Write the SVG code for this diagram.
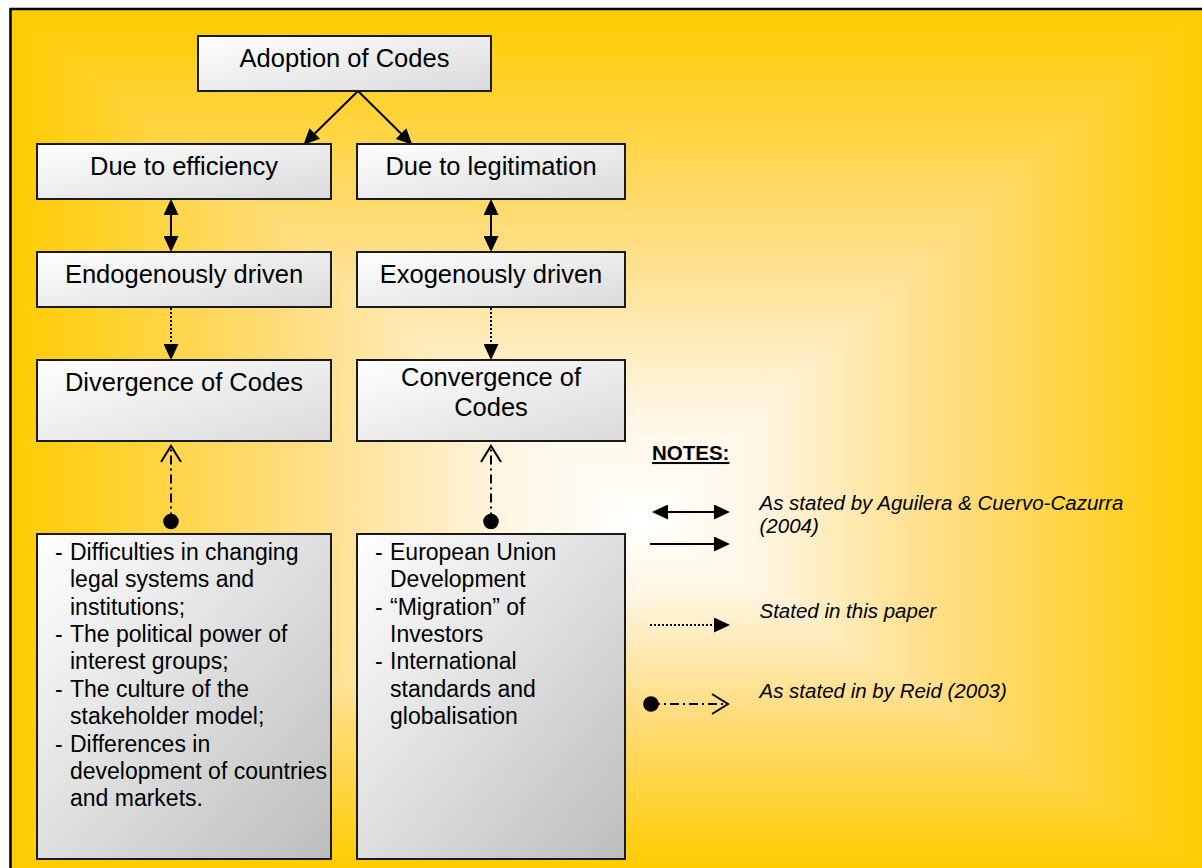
<svg xmlns="http://www.w3.org/2000/svg" width="1202" height="868" viewBox="0 0 1202 868">
<style>
.box{stroke:#1a1a1a;stroke-width:2}
.t{font-family:"Liberation Sans",Arial,sans-serif;font-size:25.5px;fill:#000;text-anchor:middle}
.b{font-family:"Liberation Sans",Arial,sans-serif;font-size:23px;fill:#000}
.n{font-family:"Liberation Sans",Arial,sans-serif;font-size:20.5px;fill:#000;font-style:italic}
.solid{stroke:#000;stroke-width:2;fill:none}
.dot{stroke:#000;stroke-width:2;fill:none;stroke-dasharray:2 2}
.dd{stroke:#000;stroke-width:2;fill:none;stroke-dasharray:9 4 2 4}
</style>
<defs>
<linearGradient id="gL" gradientUnits="userSpaceOnUse" x1="10" y1="0" x2="640" y2="0">
<stop offset="0" stop-color="#FFCC00"/><stop offset="0.45" stop-color="#FFDD80"/><stop offset="0.8" stop-color="#FFF6E6"/><stop offset="1" stop-color="#FFFFFF"/></linearGradient>
<linearGradient id="gR" gradientUnits="userSpaceOnUse" x1="1202" y1="0" x2="640" y2="0">
<stop offset="0" stop-color="#FFCC00"/><stop offset="0.45" stop-color="#FFDD80"/><stop offset="0.8" stop-color="#FFF6E6"/><stop offset="1" stop-color="#FFFFFF"/></linearGradient>
<linearGradient id="gT" gradientUnits="userSpaceOnUse" x1="0" y1="10" x2="0" y2="520">
<stop offset="0" stop-color="#FFCC00"/><stop offset="0.45" stop-color="#FFDD80"/><stop offset="0.8" stop-color="#FFF6E6"/><stop offset="1" stop-color="#FFFFFF"/></linearGradient>
<linearGradient id="gB" gradientUnits="userSpaceOnUse" x1="0" y1="868" x2="0" y2="520">
<stop offset="0" stop-color="#FFCC00"/><stop offset="0.45" stop-color="#FFDD80"/><stop offset="0.8" stop-color="#FFF6E6"/><stop offset="1" stop-color="#FFFFFF"/></linearGradient>
<linearGradient id="boxG" x1="0" y1="0" x2="1" y2="1">
<stop offset="0" stop-color="#FFFFFF"/><stop offset="1" stop-color="#DADADA"/></linearGradient>
<linearGradient id="boxG2" x1="0" y1="0" x2="1" y2="1">
<stop offset="0" stop-color="#FFFFFF"/><stop offset="1" stop-color="#BDBDBD"/></linearGradient>
<marker id="head" markerUnits="userSpaceOnUse" markerWidth="16" markerHeight="15" refX="0" refY="7.5" orient="auto-start-reverse" viewBox="0 0 16 15">
<path d="M0,0 L16,7.5 L0,15 z" fill="#000"/></marker>
<marker id="chev" markerUnits="userSpaceOnUse" markerWidth="20" markerHeight="24" refX="17" refY="12" orient="auto" viewBox="0 0 20 24">
<path d="M1,2 L17,12 L1,22" fill="none" stroke="#000" stroke-width="2"/></marker>
<marker id="ball" markerUnits="userSpaceOnUse" markerWidth="18" markerHeight="18" refX="9" refY="9" orient="auto" viewBox="0 0 18 18">
<circle cx="9" cy="9" r="7.8" fill="#000"/></marker>
</defs>

<g id="background">
<rect x="0" y="0" width="1202" height="868" fill="#FFFFFF"/>
<rect x="10" y="10" width="1192" height="858" fill="#FFE4A0"/>
<polygon points="10,10 640,520 10,868" fill="url(#gL)" stroke="url(#gL)" stroke-width="1"/>
<polygon points="1202,10 1202,868 640,520" fill="url(#gR)" stroke="url(#gR)" stroke-width="1"/>
<polygon points="10,10 1202,10 640,520" fill="url(#gT)" stroke="url(#gT)" stroke-width="1"/>
<polygon points="10,868 1202,868 640,520" fill="url(#gB)" stroke="url(#gB)" stroke-width="1"/>
<path d="M10.5,880 L10.5,9 L1210,9" fill="none" stroke="#000" stroke-width="2.5"/>
</g>

<g id="connectors">
<line class="solid" x1="358" y1="91" x2="314.8" y2="133.5" marker-end="url(#head)"/>
<line class="solid" x1="358" y1="91" x2="401" y2="133.5" marker-end="url(#head)"/>
<line class="solid" x1="171" y1="215" x2="171" y2="236" marker-start="url(#head)" marker-end="url(#head)"/>
<line class="solid" x1="491" y1="215" x2="491" y2="236" marker-start="url(#head)" marker-end="url(#head)"/>
<line class="dot" x1="171" y1="308" x2="171" y2="344" marker-end="url(#head)"/>
<line class="dot" x1="491" y1="308" x2="491" y2="344" marker-end="url(#head)"/>
<line class="dd" x1="171" y1="521.5" x2="171" y2="446" marker-start="url(#ball)" marker-end="url(#chev)"/>
<line class="dd" x1="491" y1="521.5" x2="491" y2="446" marker-start="url(#ball)" marker-end="url(#chev)"/>
</g>

<g id="node-adoption">
<rect class="box" x="198" y="36" width="293" height="55" fill="url(#boxG)"/>
<text class="t" x="344.5" y="67">Adoption of Codes</text>
</g>
<g id="node-efficiency">
<rect class="box" x="37" y="144" width="294" height="55" fill="url(#boxG)"/>
<text class="t" x="184" y="175">Due to efficiency</text>
</g>
<g id="node-legitimation">
<rect class="box" x="357" y="144" width="268" height="55" fill="url(#boxG)"/>
<text class="t" x="491" y="175">Due to legitimation</text>
</g>
<g id="node-endogenous">
<rect class="box" x="37" y="252" width="294" height="55" fill="url(#boxG)"/>
<text class="t" x="184" y="283">Endogenously driven</text>
</g>
<g id="node-exogenous">
<rect class="box" x="357" y="252" width="268" height="55" fill="url(#boxG)"/>
<text class="t" x="491" y="283">Exogenously driven</text>
</g>
<g id="node-divergence">
<rect class="box" x="37" y="360" width="294" height="81" fill="url(#boxG)"/>
<text class="t" x="184" y="391">Divergence of Codes</text>
</g>
<g id="node-convergence">
<rect class="box" x="357" y="360" width="268" height="81" fill="url(#boxG)"/>
<text class="t" x="491" y="386">Convergence of</text>
<text class="t" x="491" y="416">Codes</text>
</g>
<g id="node-divergence-factors">
<rect class="box" x="37" y="534" width="294" height="325" fill="url(#boxG2)"/>
<text class="b" x="55" y="560">-</text><text class="b" x="70" y="560">Difficulties in changing</text>
<text class="b" x="70" y="587">legal systems and</text>
<text class="b" x="70" y="615">institutions;</text>
<text class="b" x="55" y="642">-</text><text class="b" x="70" y="642">The political power of</text>
<text class="b" x="70" y="669">interest groups;</text>
<text class="b" x="55" y="697">-</text><text class="b" x="70" y="697">The culture of the</text>
<text class="b" x="70" y="724">stakeholder model;</text>
<text class="b" x="55" y="752">-</text><text class="b" x="70" y="752">Differences in</text>
<text class="b" x="70" y="779">development of countries</text>
<text class="b" x="70" y="806">and markets.</text>
</g>
<g id="node-convergence-factors">
<rect class="box" x="357" y="534" width="268" height="325" fill="url(#boxG2)"/>
<text class="b" x="375" y="560">-</text><text class="b" x="390" y="560">European Union</text>
<text class="b" x="390" y="587">Development</text>
<text class="b" x="375" y="615">-</text><text class="b" x="390" y="615">“Migration” of</text>
<text class="b" x="390" y="642">Investors</text>
<text class="b" x="375" y="669">-</text><text class="b" x="390" y="669">International</text>
<text class="b" x="390" y="697">standards and</text>
<text class="b" x="390" y="724">globalisation</text>
</g>

<g id="legend">
<text x="652" y="460" font-family="Liberation Sans, Arial, sans-serif" font-size="20.5" font-weight="bold" text-decoration="underline">NOTES:</text>
<line class="solid" x1="668" y1="512" x2="714" y2="512" marker-start="url(#head)" marker-end="url(#head)"/>
<line class="solid" x1="650" y1="544" x2="714" y2="544" marker-end="url(#head)"/>
<line class="dot" x1="650" y1="625" x2="714" y2="625" marker-end="url(#head)"/>
<line class="dd" x1="651" y1="704" x2="728" y2="704" stroke-dasharray="0 18 2 6 10 6 2 40" marker-start="url(#ball)" marker-end="url(#chev)"/>
<text class="n" x="759.5" y="510">As stated by Aguilera &amp; Cuervo-Cazurra</text>
<text class="n" x="759.5" y="533">(2004)</text>
<text class="n" x="759.5" y="618">Stated in this paper</text>
<text class="n" x="759.5" y="698">As stated in by Reid (2003)</text>
</g>
</svg>
